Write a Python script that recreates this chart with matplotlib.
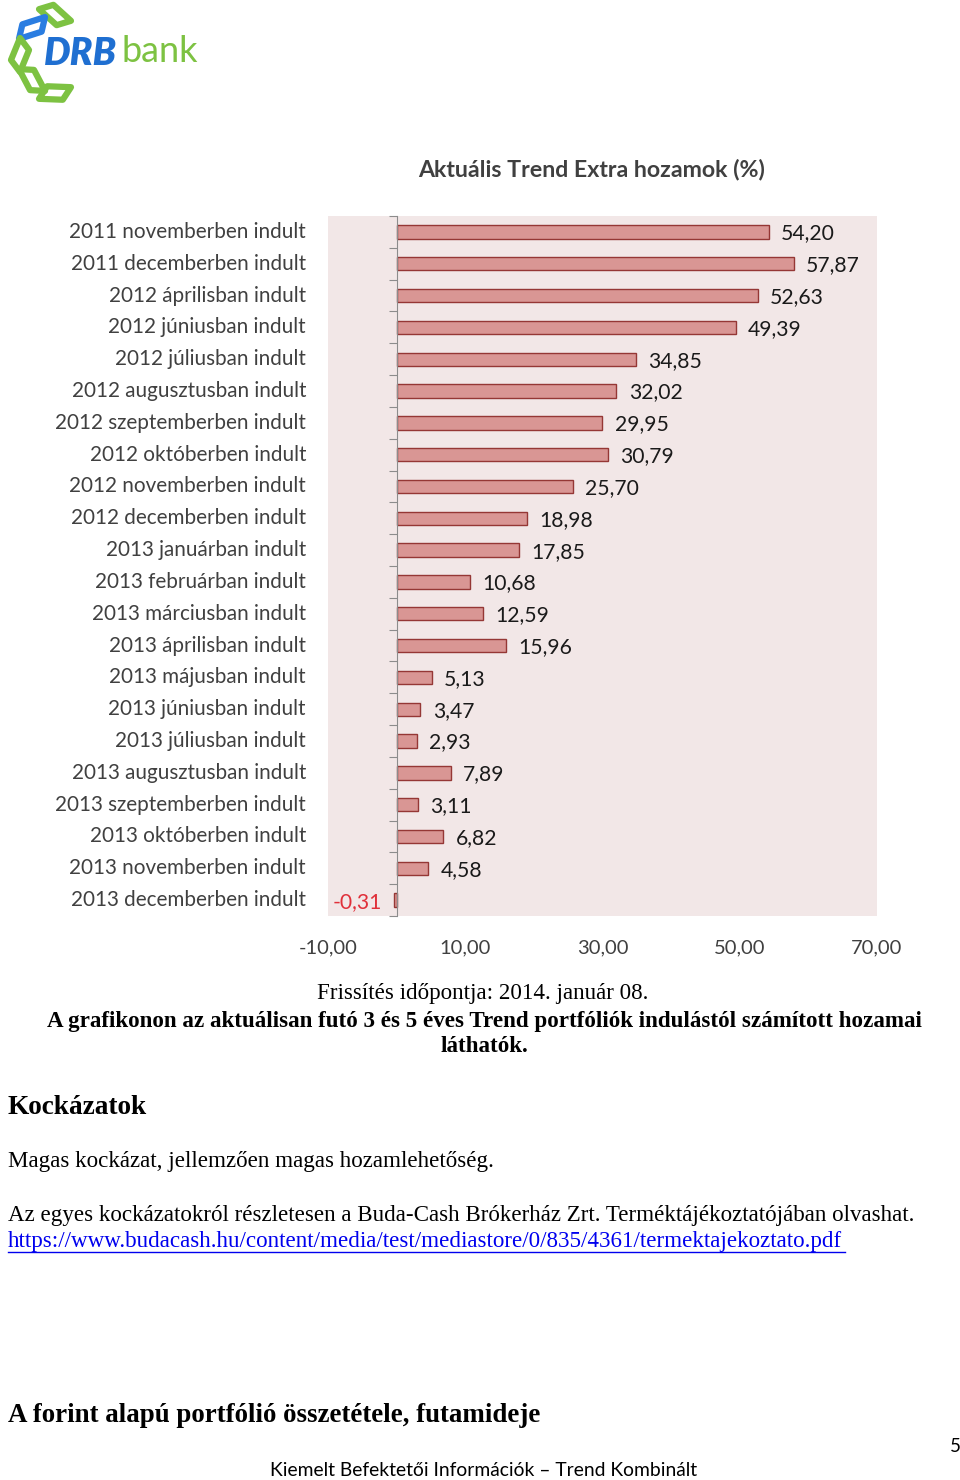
import numpy as np
import matplotlib.pyplot as plt
from matplotlib.patches import Polygon
from matplotlib.transforms import blended_transform_factory

# chart data, top to bottom
categories = ['2011 novemberben indult', '2011 decemberben indult', '2012 áprilisban indult',
              '2012 júniusban indult', '2012 júliusban indult', '2012 augusztusban indult',
              '2012 szeptemberben indult', '2012 októberben indult', '2012 novemberben indult',
              '2012 decemberben indult', '2013 januárban indult', '2013 februárban indult',
              '2013 márciusban indult', '2013 áprilisban indult', '2013 májusban indult',
              '2013 júniusban indult', '2013 júliusban indult', '2013 augusztusban indult',
              '2013 szeptemberben indult', '2013 októberben indult', '2013 novemberben indult',
              '2013 decemberben indult']
values = [54.20, 57.87, 52.63, 49.39, 34.85, 32.02, 29.95, 30.79, 25.70, 18.98, 17.85,
          10.68, 12.59, 15.96, 5.13, 3.47, 2.93, 7.89, 3.11, 6.82, 4.58, -0.31]
xticks = [-10, 10, 30, 50, 70]

sans = ['Lato', 'DejaVu Sans']
serif = ['Liberation Serif', 'DejaVu Serif']

fig = plt.figure(figsize=(9.6, 14.8), dpi=100)

# --- logo ---
lax = fig.add_axes([0, 1 - 110 / 1480, 220 / 960, 110 / 1480])
lax.set_xlim(0, 220)
lax.set_ylim(110, 0)
lax.axis('off')
# leaf outlines (center x, center y, angle deg, colour)
petals = [(55, 15, 20, '#7dc242'), (32, 28, -40, '#2a7de1'), (20, 55, 90, '#7dc242'),
          (32, 80, 40, '#7dc242'), (55, 93, -20, '#7dc242')]
for cx, cy, ang, col in petals:
    a = np.deg2rad(ang)
    ca, sa = np.cos(a), np.sin(a)
    base = [(-17, 0), (-5, -9), (17, 0), (5, 9)]
    pts = [(cx + px_ * ca - py_ * sa, cy + px_ * sa + py_ * ca) for px_, py_ in base]
    lax.add_patch(Polygon(pts, closed=True, fill=False, ec=col, lw=4.5, joinstyle='round'))
lax.text(44, 54, 'DRB', color='#1f6fd1', fontsize=27, fontweight='heavy', style='italic',
         family=sans, va='center', ha='left')
lax.text(121, 52, 'bank', color='#7dc242', fontsize=26, family=sans, va='center', ha='left')

# --- bar chart ---
ax = fig.add_axes([328 / 960, 1 - 916 / 1480, 549 / 960, 700 / 1480])
ax.set_facecolor('#f2e7e7')
y = np.arange(len(categories))
ax.barh(y, values, height=0.42, color='#d99694', edgecolor='#953735', linewidth=1)
ax.set_xlim(-10, 70)
ax.set_ylim(len(categories) - 0.5, -0.5)

for sp in ['top', 'right', 'bottom']:
    ax.spines[sp].set_visible(False)
ax.spines['left'].set_position(('data', 0))
ax.spines['left'].set_color('#8c8c8c')
ax.set_yticks(np.arange(-0.5, len(categories), 1))
ax.set_yticklabels([])
ax.tick_params(axis='y', length=6, color='#8c8c8c', direction='out')
ax.set_xticks(xticks)
ax.set_xticklabels([('%.2f' % v).replace('.', ',') for v in xticks])
ax.tick_params(axis='x', length=0, pad=17, labelsize=14.5, labelcolor='#404040')
for lab in ax.get_xticklabels():
    lab.set_family(sans)

tr = blended_transform_factory(ax.transAxes, ax.transData)
for i, (cat, v) in enumerate(zip(categories, values)):
    ax.text(-22 / 549, i, cat, transform=tr, ha='right', va='center',
            fontsize=14.9, color='#404040', family=sans)
    txt = ('%.2f' % v).replace('.', ',')
    if v >= 0:
        ax.text(v + 1.8, i + 0.05, txt, ha='left', va='center', fontsize=15.2,
                color='#1a1a1a', family=sans)
    else:
        ax.text(v - 1.8, i + 0.05, txt, ha='right', va='center', fontsize=15.2,
                color='#e0303a', family=sans)

fig.text(592 / 960, 1 - 170 / 1480, 'Aktuális Trend Extra hozamok (%)', ha='center',
         va='center', fontsize=16.7, fontweight='bold', color='#404040', family=sans)

# --- page text ---
def px(xp, yp):
    return xp / 960, 1 - yp / 1480

fig.text(*px(483, 994), 'Frissítés időpontja: 2014. január 08.', ha='center', va='center',
         fontsize=16.6, family=serif)
fig.text(*px(484, 1021), 'A grafikonon az aktuálisan futó 3 és 5 éves Trend portfóliók '
         'indulástól számított hozamai', ha='center', va='center', fontsize=16.6,
         fontweight='bold', family=serif)
fig.text(*px(484, 1047), 'láthatók.', ha='center', va='center', fontsize=16.6,
         fontweight='bold', family=serif)
fig.text(*px(8, 1107), 'Kockázatok', ha='left', va='center', fontsize=19.6,
         fontweight='bold', family=serif)
fig.text(*px(8, 1162), 'Magas kockázat, jellemzően magas hozamlehetőség.', ha='left',
         va='center', fontsize=16.6, family=serif)
fig.text(*px(8, 1215), 'Az egyes kockázatokról részletesen a Buda-Cash Brókerház Zrt. '
         'Terméktájékoztatójában olvashat.', ha='left', va='center', fontsize=16.6,
         family=serif)
fig.text(*px(8, 1242), 'https://www.budacash.hu/content/media/test/mediastore/0/835/'
         '4361/termektajekoztato.pdf', ha='left', va='center', fontsize=16.6,
         family=serif, color='#0000ee')
fig.lines.append(plt.Line2D([8 / 960, 845 / 960], [1 - 1252 / 1480] * 2, color='#0000ee',
                            lw=1, transform=fig.transFigure))
fig.text(*px(8, 1415), 'A forint alapú portfólió összetétele, futamideje', ha='left',
         va='center', fontsize=19.4, fontweight='bold', family=serif)
fig.text(*px(955, 1446), '5', ha='center', va='center', fontsize=13.5, family=sans)
fig.text(*px(484, 1470), 'Kiemelt Befektetői Információk – Trend Kombinált', ha='center',
         va='center', fontsize=13.9, family=sans)

fig.savefig('out.png', dpi=100)
